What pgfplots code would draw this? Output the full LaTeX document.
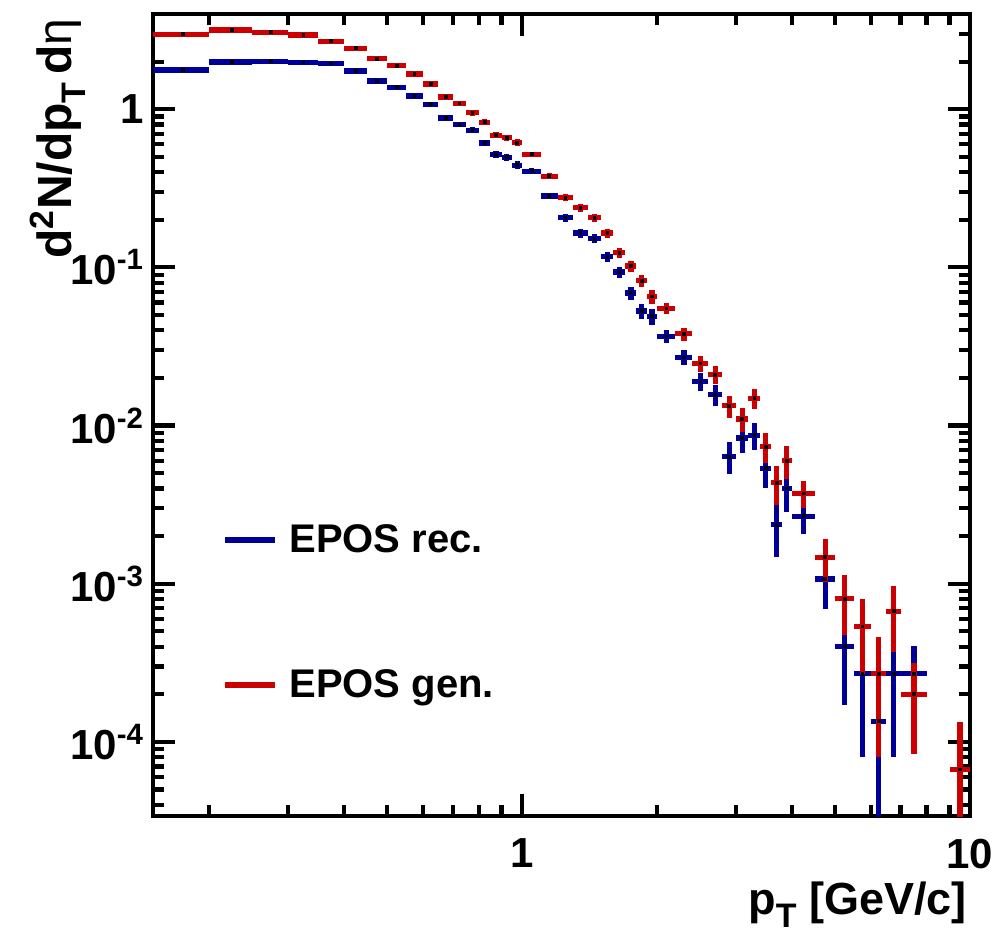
\documentclass[border=0pt]{standalone}
\usepackage{fontspec}
\setmainfont{Liberation Sans}
\usepackage{pgfplots}
\usepackage{pgfplotstable}
\pgfplotsset{compat=1.18}
\definecolor{rootred}{RGB}{204,0,0}
\definecolor{rootblue}{RGB}{0,0,153}
\newcommand{\sub}[1]{\raisebox{-0.55ex}{\fontsize{17}{17}\selectfont #1}}

% EPOS rec. (blue): bin centre, half width, value, error
\pgfplotstableread{
x ex y ey
0.175 0.025 1.77 0.0487
0.225 0.025 1.99 0.0516
0.275 0.025 2.01 0.0519
0.325 0.025 1.98 0.0515
0.375 0.025 1.95 0.0511
0.425 0.025 1.745 0.0484
0.475 0.025 1.51 0.0450
0.525 0.025 1.377 0.0430
0.575 0.025 1.213 0.0403
0.625 0.025 1.075 0.0380
0.675 0.025 0.881 0.0344
0.725 0.025 0.800 0.0327
0.775 0.025 0.736 0.0314
0.825 0.025 0.612 0.0286
0.875 0.025 0.517 0.0263
0.925 0.025 0.497 0.0258
0.975 0.025 0.443 0.0244
1.05 0.05 0.406 0.0165
1.15 0.05 0.283 0.0138
1.25 0.05 0.206 0.0117
1.35 0.05 0.165 0.0105
1.45 0.05 0.152 0.0101
1.55 0.05 0.1167 0.00884
1.65 0.05 0.0934 0.00791
1.75 0.05 0.0689 0.00680
1.85 0.05 0.0530 0.00596
1.95 0.05 0.0492 0.00574
2.1 0.1 0.0366 0.00350
2.3 0.1 0.0270 0.00301
2.5 0.1 0.0190 0.00252
2.7 0.1 0.01567 0.00229
2.9 0.1 0.00637 0.00146
3.1 0.1 0.00835 0.00167
3.3 0.1 0.0087 0.00171
3.5 0.1 0.00537 0.00134
3.7 0.1 0.00236 0.000889
3.9 0.1 0.00401 0.00116
4.25 0.25 0.00267 0.000598
4.75 0.25 0.00107 0.000379
5.25 0.25 0.000403 0.000232
5.75 0.25 0.00027 0.00019
6.25 0.25 0.000135 0.000134
6.75 0.25 0.00027 0.00019
7.5 0.5 0.00027 0.000134
}\recdata

% EPOS gen. (red)
\pgfplotstableread{
x ex y ey
0.175 0.025 2.98 0.0632
0.225 0.025 3.17 0.0652
0.275 0.025 3.07 0.0641
0.325 0.025 2.95 0.0629
0.375 0.025 2.69 0.0600
0.425 0.025 2.43 0.0571
0.475 0.025 2.09 0.0529
0.525 0.025 1.885 0.0503
0.575 0.025 1.67 0.0473
0.625 0.025 1.445 0.0440
0.675 0.025 1.196 0.0400
0.725 0.025 1.09 0.0382
0.775 0.025 0.948 0.0356
0.825 0.025 0.828 0.0333
0.875 0.025 0.685 0.0303
0.925 0.025 0.662 0.0298
0.975 0.025 0.615 0.0287
1.05 0.05 0.520 0.0187
1.15 0.05 0.377 0.0159
1.25 0.05 0.276 0.0136
1.35 0.05 0.238 0.0126
1.45 0.05 0.206 0.0117
1.55 0.05 0.165 0.0105
1.65 0.05 0.124 0.00911
1.75 0.05 0.102 0.00827
1.85 0.05 0.0823 0.00743
1.95 0.05 0.0655 0.00662
2.1 0.1 0.0550 0.00429
2.3 0.1 0.0380 0.00357
2.5 0.1 0.0247 0.00288
2.7 0.1 0.0210 0.00265
2.9 0.1 0.01336 0.00212
3.1 0.1 0.0110 0.00192
3.3 0.1 0.0149 0.00223
3.5 0.1 0.00736 0.00157
3.7 0.1 0.00434 0.00121
3.9 0.1 0.0060 0.00142
4.25 0.25 0.00373 0.000707
4.75 0.25 0.00147 0.000444
5.25 0.25 0.000803 0.000328
5.75 0.25 0.000537 0.000268
6.25 0.25 0.00027 0.00019
6.75 0.25 0.00067 0.0003
7.5 0.5 0.0002 0.000116
9.5 0.5 0.000067 0.0000668
}\gendata

\begin{document}
\begin{tikzpicture}
\begin{axis}[
  scale only axis, width=408.5pt, height=401pt,
  xmode=log, ymode=log,
  xmin=0.15, xmax=10, ymin=3.4e-5, ymax=4,
  axis line style={line width=2.4pt},
  every tick/.style={line width=2.1pt, black},
  major tick length=11pt, minor tick length=5.5pt,
  tick align=inside,
  xtick={1,10}, xticklabels={1,10},
  minor xtick={0.2,0.3,0.4,0.5,0.6,0.7,0.8,0.9,2,3,4,5,6,7,8,9},
  ytick={1e-4,1e-3,1e-2,1e-1,1},
  yticklabels={10\textsuperscript{-4},10\textsuperscript{-3},10\textsuperscript{-2},10\textsuperscript{-1},1},
  minor ytick={4e-5,5e-5,6e-5,7e-5,8e-5,9e-5,2e-4,3e-4,4e-4,5e-4,6e-4,7e-4,8e-4,9e-4,2e-3,3e-3,4e-3,5e-3,6e-3,7e-3,8e-3,9e-3,0.02,0.03,0.04,0.05,0.06,0.07,0.08,0.09,0.2,0.3,0.4,0.5,0.6,0.7,0.8,0.9,2,3},
  tick label style={font=\bfseries\fontsize{21}{21}\selectfont},
  xticklabel style={yshift=-8pt},
  yticklabel style={xshift=-1pt},
  xlabel={p\sub{T} [GeV/c]},
  xlabel style={font=\bfseries\fontsize{22.5}{22.5}\selectfont, at={(rel axis cs:1,0)}, anchor=base east, inner sep=0pt, yshift=-49pt, xshift=-1.5pt},
  ylabel={d\textsuperscript{2}N/dp\sub{T}\,d{\mdseries η}},
  ylabel style={font=\bfseries\fontsize{24}{24}\selectfont, at={(rel axis cs:-0.1,0.995)}, anchor=base east, inner sep=0pt},
  legend style={draw=none, fill=none, at={(rel axis cs:0.0845,0.2537)}, anchor=west, inner sep=0pt,
    font=\bfseries\fontsize{20}{20}\selectfont, row sep=53pt},
  legend cell align=left,
  legend image code/.code={\draw[#1, line width=2.6pt] (0pt,0pt) -- (25pt,0pt); \path (30pt,0pt);},
  clip=true,
]
\addplot[color=rootblue, only marks, mark=square*, mark size=0.7pt, mark options={black, fill=black},
  error bars/.cd, x dir=both, x explicit, y dir=both, y explicit,
  error mark=none, error bar style={line width=2.6pt, rootblue}]
  table[x=x, y=y, x error=ex, y error=ey] {\recdata};
\addlegendentry{EPOS rec.}
\addplot[color=rootred, only marks, mark=square*, mark size=0.7pt, mark options={black, fill=black},
  error bars/.cd, x dir=both, x explicit, y dir=both, y explicit,
  error mark=none, error bar style={line width=2.6pt, rootred}]
  table[x=x, y=y, x error=ex, y error=ey] {\gendata};
\addlegendentry{EPOS gen.}
\coordinate (ll) at (rel axis cs:0,0);
\coordinate (ur) at (rel axis cs:1,1);
\end{axis}
\path[use as bounding box] ([xshift=-76.5pt,yshift=-60pt]ll) rectangle ([xshift=16pt,yshift=7pt]ur);
\end{tikzpicture}
\end{document}
